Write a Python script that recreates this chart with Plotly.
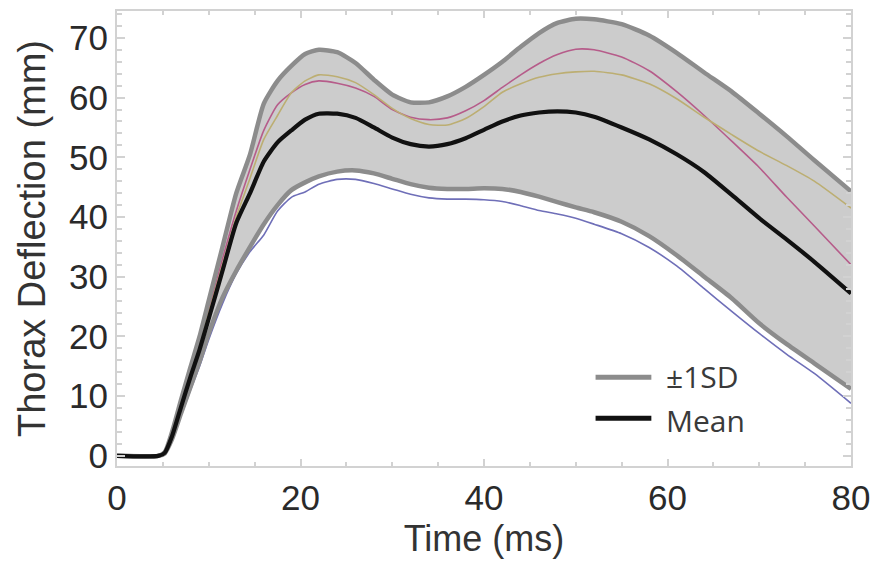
import plotly.graph_objects as go

# Time grid (ms)
time_ms = [0, 4.5, 5.2, 6, 7, 8, 9, 10, 11.5, 13, 14.5, 16, 17.5, 19, 20.5, 22, 24, 26, 28, 30,
           32, 34, 36, 38, 40, 42, 44, 46, 48, 50, 52, 55, 58, 61, 64, 67, 70, 73, 76, 80]

mean_mm = [0, 0, 0.5, 3.3, 8.3, 13.2, 17.8, 23, 31, 39, 44, 49.3, 52.5, 54.5, 56.3, 57.3, 57.3, 56.6, 55, 53.3,
           52.2, 51.8, 52.2, 53.2, 54.6, 56, 57, 57.5, 57.7, 57.5, 56.8, 55, 53, 50.5, 47.5, 43.7, 39.8, 36.2, 32.5, 27.2]

upper_sd = [0, 0, 0.6, 4, 9.5, 14.8, 20, 26, 35, 44, 50.5, 59, 62.8, 65.3, 67.3, 68, 67.6, 65.8, 63, 60.5,
            59.2, 59.2, 60.2, 61.8, 63.8, 66, 68.5, 70.8, 72.5, 73.2, 73.1, 72.3, 70.4, 67.5, 64.2, 61, 57.3, 53.5, 49.5, 44.3]

lower_sd = [0, 0, 0.4, 2.8, 7.2, 11.5, 15.8, 20.5, 26.5, 31, 35, 38.8, 42, 44.5, 45.8, 46.8, 47.6, 47.8, 47.3, 46.4,
            45.5, 44.9, 44.7, 44.7, 44.8, 44.7, 44.2, 43.4, 42.5, 41.6, 40.8, 39.2, 36.8, 33.6, 30, 26.4, 22.2, 18.7, 15.5, 11.2]

test_blue = [0, 0, 0.3, 2.5, 6.8, 11, 15, 19.5, 25.5, 30.5, 34.2, 37, 41, 43.3, 44.2, 45.5, 46.3, 46.3, 45.6, 44.7,
             43.8, 43.2, 43, 43, 42.9, 42.6, 41.9, 41.1, 40.5, 39.8, 38.8, 37.2, 34.9, 31.8, 28, 24.2, 20.5, 17, 13.8, 8.8]

test_pink = [0, 0, 0.5, 3.8, 9.2, 14.5, 19.5, 24.5, 33, 41, 48, 54.5, 58.8, 60.8, 62.2, 62.8, 62.4, 61.6, 60.2, 58,
             56.7, 56.3, 56.6, 57.8, 59.5, 61.7, 63.8, 65.7, 67.2, 68.1, 68, 66.8, 64.5, 61, 57, 52.7, 48.3, 43.3, 38.5, 32]

test_olive = [0, 0, 0.5, 3.6, 8.9, 14, 19, 24, 32, 40, 46.5, 53, 57, 60.8, 62.8, 63.8, 63.5, 62.5, 60.5, 58.2,
              56.5, 55.5, 55.4, 56.5, 58.5, 60.9, 62.3, 63.4, 64, 64.3, 64.4, 63.8, 62.3, 59.8, 56.7, 53.8, 51, 48.6, 46, 41.5]

x_ticks = [0, 20, 40, 60, 80]
y_ticks = [0, 10, 20, 30, 40, 50, 60, 70]

SD_COLOR = "#8c8c8c"
FILL_COLOR = "#cccccc"
FRAME = "#d2d2d2"

fig = go.Figure()
sm = 0.6
fig.add_trace(go.Scatter(x=time_ms, y=lower_sd, mode="lines", line=dict(width=0, shape="spline", smoothing=sm),
                         showlegend=False, hoverinfo="skip"))
fig.add_trace(go.Scatter(x=time_ms, y=upper_sd, mode="lines", line=dict(width=0, shape="spline", smoothing=sm),
                         fill="tonexty", fillcolor=FILL_COLOR, showlegend=False, hoverinfo="skip"))

for ys, col in [(test_blue, "#6f6fb8"), (test_pink, "#b65c8a"), (test_olive, "#bcae72")]:
    fig.add_trace(go.Scatter(x=time_ms, y=ys, mode="lines",
                             line=dict(color=col, width=1.6, shape="spline", smoothing=sm), showlegend=False))

for ys in (upper_sd, lower_sd):
    fig.add_trace(go.Scatter(x=time_ms, y=ys, mode="lines",
                             line=dict(color=SD_COLOR, width=4.5, shape="spline", smoothing=sm), showlegend=False))

fig.add_trace(go.Scatter(x=time_ms, y=mean_mm, mode="lines",
                         line=dict(color="#111111", width=4.2, shape="spline", smoothing=sm), showlegend=False))

# Manual legend
fig.add_shape(type="line", xref="paper", yref="paper", x0=0.652, x1=0.728, y0=0.195, y1=0.195,
              line=dict(color=SD_COLOR, width=5))
fig.add_shape(type="line", xref="paper", yref="paper", x0=0.652, x1=0.728, y0=0.105, y1=0.105,
              line=dict(color="#111111", width=5))
fig.add_annotation(xref="paper", yref="paper", x=0.745, y=0.197, text="±1SD", showarrow=False,
                   xanchor="left", yanchor="middle", font=dict(family="Open Sans", size=30, color="#3a3a3a"))
fig.add_annotation(xref="paper", yref="paper", x=0.745, y=0.099, text="Mean", showarrow=False,
                   xanchor="left", yanchor="middle", font=dict(family="Open Sans", size=30, color="#3a3a3a"))

axis_common = dict(showline=True, linecolor=FRAME, linewidth=2, mirror="allticks", ticks="inside",
                   tickcolor=FRAME, tickwidth=1.5, showgrid=False, zeroline=False,
                   tickfont=dict(family="Liberation Sans", size=35, color="#2a2a2a"))

fig.update_xaxes(range=[0, 80], tickvals=x_ticks, ticklen=7,
                 minor=dict(ticks="inside", dtick=5, ticklen=4, tickcolor=FRAME, tickwidth=1.5),
                 title=dict(text="Time (ms)", font=dict(family="Liberation Sans", size=36, color="#333333"), standoff=10),
                 **axis_common)
fig.update_yaxes(range=[-1.7, 74.5], tickvals=y_ticks, ticklen=8,
                 minor=dict(ticks="inside", dtick=2, ticklen=5, tickcolor=FRAME, tickwidth=1.5),
                 title=dict(text="Thorax Deflection (mm)", font=dict(family="Liberation Sans", size=38, color="#333333"), standoff=12),
                 **axis_common)

fig.update_layout(width=879, height=561, margin=dict(l=117, r=26, t=9, b=95),
                  plot_bgcolor="white", paper_bgcolor="white", showlegend=False)

fig.write_html("out.html")
